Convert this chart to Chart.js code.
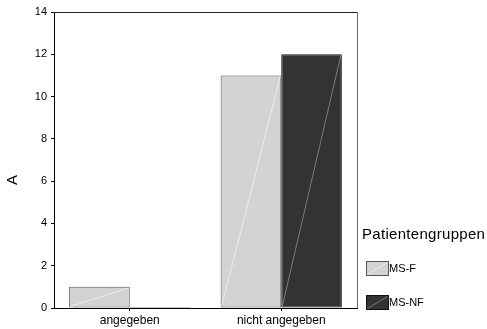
<!DOCTYPE html>
<html>
<head>
<meta charset="utf-8">
<script src="https://cdn.jsdelivr.net/npm/chart.js@4/dist/chart.umd.min.js"></script>
<style>
html,body{margin:0;padding:0;background:#fff;}
#wrap{width:487px;height:329px;position:relative;}
</style>
</head>
<body>
<div id="wrap"><canvas id="c" width="487" height="329"></canvas></div>
<script>
const categories = ['angegeben', 'nicht angegeben'];
const seriesLabels = ['MS-F', 'MS-NF'];
const msF = [1, 11];
const msNF = [0, 12];
const yMin = 0, yMax = 14, yStep = 2;
const yTitle = 'A';
const legendTitle = 'Patientengruppen';

const FONT = '"Liberation Sans", Arial, sans-serif';
const fills = ['#d3d3d3', '#333333'];
const borders = ['#555555', '#111111'];
const diagColors = ['rgba(255,255,255,0.55)', 'rgba(170,170,170,0.6)'];

const extras = {
  id: 'extras',
  afterDatasetsDraw(chart) {
    const ctx = chart.ctx;
    chart.data.datasets.forEach((ds, i) => {
      const meta = chart.getDatasetMeta(i);
      meta.data.forEach(bar => {
        const p = bar.getProps(['x', 'y', 'base', 'width'], true);
        if (Math.abs(p.base - p.y) < 2) return;
        ctx.save();
        ctx.strokeStyle = diagColors[i];
        ctx.lineWidth = 1;
        ctx.beginPath();
        ctx.moveTo(p.x - p.width / 2 + 1, p.base - 1);
        ctx.lineTo(p.x + p.width / 2 - 1, p.y + 1);
        ctx.stroke();
        ctx.restore();
      });
    });
  },
  afterDraw(chart) {
    const ctx = chart.ctx;
    const a = chart.chartArea;
    ctx.save();
    ctx.lineWidth = 1;
    ctx.strokeStyle = '#222';
    ctx.beginPath();
    ctx.moveTo(a.left, Math.round(a.top) + 0.5);
    ctx.lineTo(Math.round(a.right) + 0.5, Math.round(a.top) + 0.5);
    ctx.stroke();
    ctx.strokeStyle = '#666';
    ctx.beginPath();
    ctx.moveTo(Math.round(a.right) + 0.5, Math.round(a.top) + 0.5);
    ctx.lineTo(Math.round(a.right) + 0.5, a.bottom);
    ctx.stroke();

    ctx.fillStyle = '#000';
    ctx.font = '15px ' + FONT;
    ctx.textAlign = 'center';
    ctx.textBaseline = 'middle';
    ctx.translate(13, 180);
    ctx.rotate(-Math.PI / 2);
    ctx.fillText(yTitle, 0, 0);
    ctx.restore();

    ctx.save();
    ctx.fillStyle = '#000';
    ctx.font = '15px ' + FONT;
    ctx.textAlign = 'left';
    ctx.textBaseline = 'alphabetic';
    try { ctx.letterSpacing = '0.3px'; } catch (e) {}
    ctx.fillText(legendTitle, 362, 239);
    try { ctx.letterSpacing = '0px'; } catch (e) {}
    const boxY = [261, 295];
    chart.data.datasets.forEach((ds, i) => {
      const bx = 366.5, by = boxY[i] + 0.5, bw = 22, bh = 14;
      ctx.fillStyle = ds.backgroundColor;
      ctx.fillRect(bx, by, bw, bh);
      ctx.strokeStyle = diagColors[i];
      ctx.beginPath();
      ctx.moveTo(bx + 1, by + bh - 1);
      ctx.lineTo(bx + bw - 1, by + 1);
      ctx.stroke();
      ctx.strokeStyle = ds.borderColor;
      ctx.strokeRect(bx, by, bw, bh);
      ctx.fillStyle = '#000';
      ctx.font = '11px ' + FONT;
      ctx.textBaseline = 'middle';
      ctx.fillText(ds.label, 389, boxY[i] + 8);
    });
    ctx.restore();
  }
};

new Chart(document.getElementById('c'), {
  type: 'bar',
  data: {
    labels: categories,
    datasets: [
      { label: seriesLabels[0], data: msF, backgroundColor: fills[0], borderColor: borders[0], borderWidth: 1, borderSkipped: false },
      { label: seriesLabels[1], data: msNF, backgroundColor: fills[1], borderColor: borders[1], borderWidth: 1, borderSkipped: false, minBarLength: 1 }
    ]
  },
  options: {
    responsive: false,
    animation: false,
    devicePixelRatio: 1,
    layout: { padding: { top: 12, right: 130, bottom: 0, left: 0 } },
    plugins: { legend: { display: false }, tooltip: { enabled: false } },
    datasets: { bar: { categoryPercentage: 0.8, barPercentage: 1.0 } },
    scales: {
      x: {
        offset: true,
        grid: { display: true, offset: false, drawOnChartArea: false, drawTicks: true, tickLength: 3, color: '#000' },
        border: { display: true, color: '#000', width: 1 },
        ticks: { color: '#000', font: { family: FONT, size: 12 }, padding: 2, maxRotation: 0 },
        afterFit(s) { s.height = 21; }
      },
      y: {
        min: yMin, max: yMax,
        grid: { display: true, drawOnChartArea: false, drawTicks: true, tickLength: 3, color: '#000' },
        border: { display: true, color: '#000', width: 1 },
        ticks: { stepSize: yStep, color: '#000', font: { family: FONT, size: 11 }, padding: 4 },
        afterFit(s) { s.width = 54; }
      }
    }
  },
  plugins: [extras]
});
</script>
</body>
</html>
